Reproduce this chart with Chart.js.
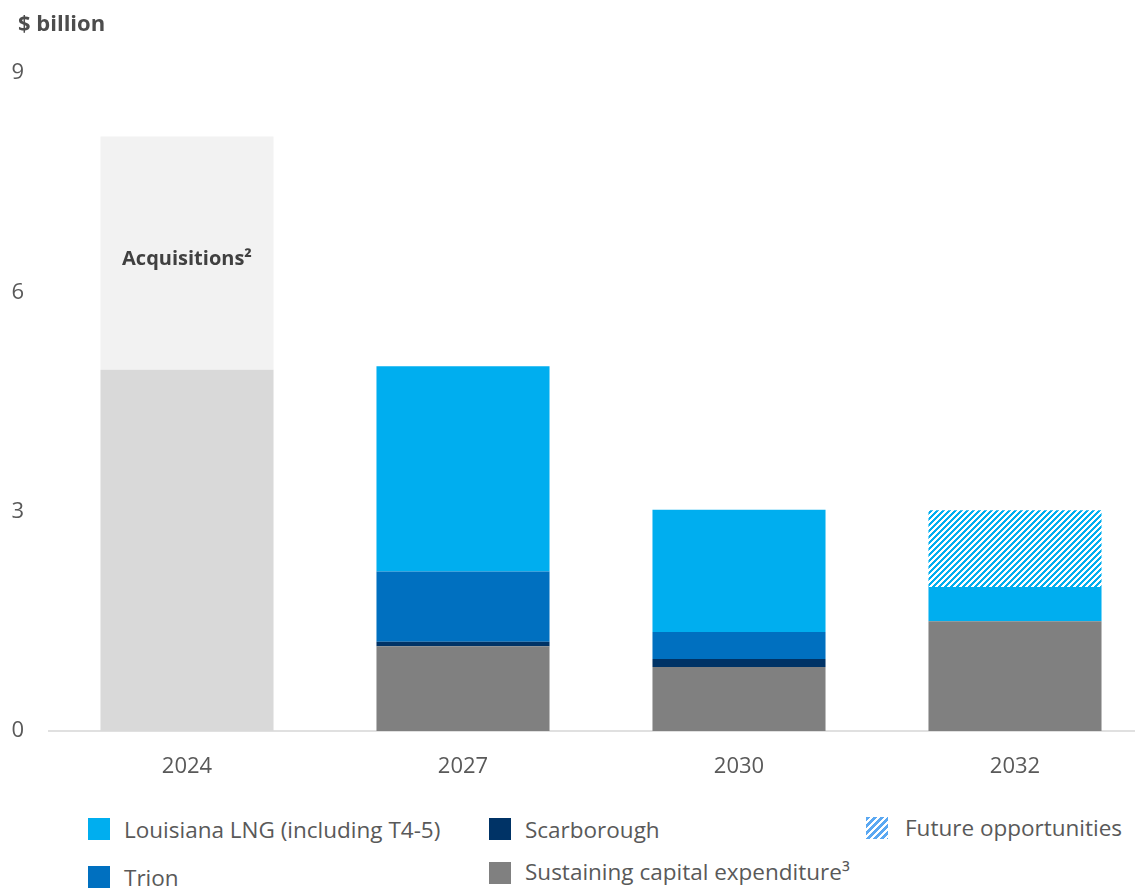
<!DOCTYPE html>
<html>
<head>
<meta charset="utf-8">
<script src="https://cdn.jsdelivr.net/npm/chart.js@4"></script>
<style>
  html, body { margin:0; padding:0; width:1135px; height:888px; overflow:hidden; background:#fff; font-family:"Open Sans", "Noto Sans", sans-serif; }
  #wrap { position:absolute; left:0; top:0; width:1160px; height:800px; }
  #title { position:absolute; left:18px; top:7px; font-size:22px; font-weight:bold; color:#4d4d4d; line-height:30px; }
  .lg { position:absolute; font-size:22.5px; color:#595959; white-space:nowrap; line-height:26px; }
  .sw { position:absolute; width:22px; height:22px; }
</style>
</head>
<body>
<div id="wrap"><canvas id="c" width="1160" height="800"></canvas></div>
<div id="title">$ billion</div>
<div id="legend"></div>
<script>
const years = ['2024', '2027', '2030', '2032'];
const capex2024 = [4.94, null, null, null];
const acquisitions = [3.19, null, null, null];
const sustaining = [null, 1.16, 0.875, 1.50];
const scarborough = [null, 0.06, 0.11, null];
const trion = [null, 0.96, 0.37, null];
const louisianaLNG = [null, 2.81, 1.67, 0.47];
const futureOpp = [null, null, null, 1.05];
const yTicks = [0, 3, 6, 9];

// striped pattern
function stripePattern(color, s) {
  const c = document.createElement('canvas');
  c.width = s; c.height = s;
  const x = c.getContext('2d');
  const img = x.createImageData(s, s);
  const r = parseInt(color.slice(1,3),16), g = parseInt(color.slice(3,5),16), b = parseInt(color.slice(5,7),16);
  for (let yy = 0; yy < s; yy++) for (let xx = 0; xx < s; xx++) {
    const i = (yy*s + xx)*4;
    const on = ((xx + yy) % s) < s/2;
    img.data[i] = on ? r : 255; img.data[i+1] = on ? g : 255; img.data[i+2] = on ? b : 255; img.data[i+3] = 255;
  }
  x.putImageData(img, 0, 0);
  return document.getElementById('c').getContext('2d').createPattern(c, 'repeat');
}

const legendItems = [
  {label:'Louisiana LNG (including T4-5)', color:'#00aeef', sx:88, sy:818, tx:124, ty:817},
  {label:'Trion', color:'#0070c0', sx:88, sy:866, tx:124, ty:865},
  {label:'Scarborough', color:'#003366', sx:489, sy:818, tx:525, ty:817},
  {label:'Sustaining capital expenditure³', color:'#808080', sx:489, sy:862, tx:525, ty:859},
  {label:'Future opportunities', color:'stripe', sx:866, sy:817, tx:905, ty:815}
];
const lg = document.getElementById('legend');
legendItems.forEach(it => {
  const sw = document.createElement('div');
  sw.className = 'sw';
  sw.style.left = it.sx + 'px'; sw.style.top = it.sy + 'px';
  sw.style.background = it.color === 'stripe' ? 'repeating-linear-gradient(135deg, #5aa8f2 0 3px, #ffffff 3px 5px)' : it.color;
  lg.appendChild(sw);
  const t = document.createElement('div');
  t.className = 'lg';
  t.style.left = it.tx + 'px'; t.style.top = it.ty + 'px';
  t.textContent = it.label;
  lg.appendChild(t);
});

const labelPlugin = {
  id: 'acqLabel',
  afterDatasetsDraw(chart) {
    const meta = chart.getDatasetMeta(1);
    const el = meta.data[0];
    if (!el) return;
    const ctx = chart.ctx;
    ctx.save();
    ctx.font = 'bold 20px "Open Sans", "Noto Sans", sans-serif';
    ctx.fillStyle = '#404040';
    ctx.textAlign = 'center';
    ctx.textBaseline = 'middle';
    ctx.fillText('Acquisitions²', el.x, (el.y + el.base) / 2 + 6);
    ctx.restore();
  }
};

const ds = (label, data, color) => ({ label, data, backgroundColor: color, borderWidth: 0, barPercentage: 0.627, categoryPercentage: 1 });

new Chart(document.getElementById('c'), {
  type: 'bar',
  data: {
    labels: years,
    datasets: [
      ds('2024 capital expenditure', capex2024, '#d9d9d9'),
      ds('Acquisitions', acquisitions, '#f2f2f2'),
      ds('Sustaining capital expenditure', sustaining, '#808080'),
      ds('Scarborough', scarborough, '#003366'),
      ds('Trion', trion, '#0070c0'),
      ds('Louisiana LNG (including T4-5)', louisianaLNG, '#00aeef'),
      ds('Future opportunities', futureOpp, stripePattern('#00aeef', 6))
    ]
  },
  options: {
    responsive: false,
    animation: false,
    layout: { padding: { top: 73, right: 7, left: 0, bottom: 0 } },
    plugins: { legend: { display: false }, tooltip: { enabled: false } },
    scales: {
      x: {
        stacked: true,
        grid: { display: false, drawTicks: false },
        border: { display: true, color: '#e0e0e0', width: 2 },
        ticks: { color: '#595959', font: { family: '"Open Sans", "Noto Sans", sans-serif', size: 22 }, padding: 23 },
        afterFit(scale) { scale.height = 69; }
      },
      y: {
        stacked: true,
        min: 0, max: 9,
        afterBuildTicks(scale) { scale.ticks = yTicks.map(v => ({ value: v })); },
        grid: { display: false, drawTicks: false },
        border: { display: false },
        ticks: { color: '#595959', font: { family: '"Open Sans", "Noto Sans", sans-serif', size: 22 }, crossAlign: 'center', padding: 25 },
        afterFit(scale) { scale.width = 49; }
      }
    }
  },
  plugins: [labelPlugin]
});
</script>
</body>
</html>
